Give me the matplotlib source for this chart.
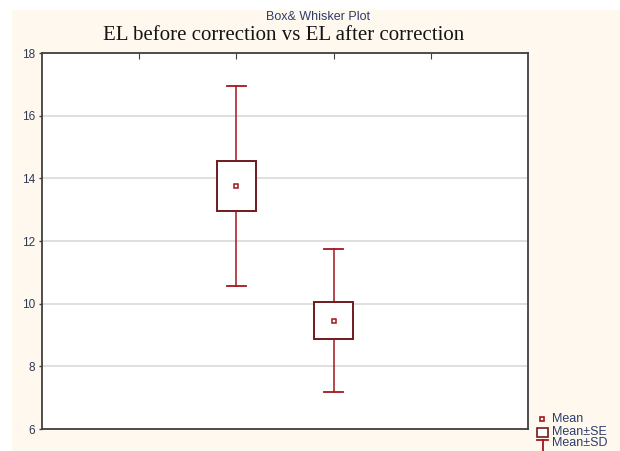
import matplotlib
matplotlib.use("Agg")
import matplotlib.pyplot as plt
import numpy as np
from matplotlib.patches import Rectangle
from matplotlib.lines import Line2D

categories = ["EL before correction", "EL after correction"]
means = [13.76, 9.46]
se = [0.79, 0.58]
sd = [3.20, 2.27]
yticks = [6, 8, 10, 12, 14, 16, 18]

W, H = 620, 451
fig = plt.figure(figsize=(W / 100, H / 100), dpi=100)
fig.patch.set_facecolor("white")
bg = Rectangle((12 / W, 0), (W - 12) / W, (H - 10) / H,
               transform=fig.transFigure, facecolor="#FFF8EF",
               edgecolor="none", zorder=-10)
fig.patches.append(bg)

ax = fig.add_axes([42 / W, 22 / H, 486 / W, 376 / H])
ax.set_zorder(5)
ax.set_facecolor("white")
ax.set_xlim(0, 5)
ax.set_ylim(6, 18)

red = "#A3161C"
dark = "#6E1B1E"
pos = np.arange(len(categories)) + 2
for x, m, s, d in zip(pos, means, se, sd):
    ax.plot([x, x], [m + s, m + d], color=red, lw=1.1, zorder=3)
    ax.plot([x, x], [m - d, m - s], color=red, lw=1.1, zorder=3)
    ax.plot([x - 0.1, x + 0.1], [m + d, m + d], color=red, lw=1.3, zorder=3)
    ax.plot([x - 0.1, x + 0.1], [m - d, m - d], color=red, lw=1.3, zorder=3)
    ax.add_patch(Rectangle((x - 0.2, m - s), 0.4, 2 * s, facecolor="white",
                           edgecolor=dark, lw=1.4, zorder=4))
    ax.plot([x], [m], marker="s", ms=2.8, mfc="white", mec=red, mew=1.1,
            zorder=5, ls="none")

ax.set_yticks(yticks)
ax.set_yticklabels([str(t) for t in yticks], fontsize=8.5, color="#2E3A55",
                   family="Liberation Sans")
ax.grid(axis="y", color="#D9D9D9", lw=1.2, zorder=1)
ax.set_axisbelow(True)
ax.set_xticks([1, 2, 3, 4])
ax.tick_params(axis="x", bottom=False, top=True, direction="in", length=4,
               labelbottom=False, color="#404040")
ax.tick_params(axis="y", length=2, width=1, color="#404040", pad=3)
for sp in ax.spines.values():
    sp.set_color("#404040")
    sp.set_linewidth(1.3)

fig.text(318 / W, 1 - 17 / H, "Box& Whisker Plot", ha="center", va="center",
         fontsize=9, color="#2A3E6A", family="Liberation Sans", zorder=6)
fig.text(284 / W, 1 - 35 / H, "EL before correction vs EL after correction",
         ha="center", va="center", fontsize=15, color="#151515",
         family="Liberation Serif", zorder=6)

# legend
tx = 552 / W
rows = [419, 432, 443]
fig.add_artist(Line2D([542 / W], [1 - rows[0] / H], marker="s", ms=3.5,
                      mfc="white", mec=red, mew=1.2, ls="none",
                      transform=fig.transFigure, zorder=6))
fig.add_artist(Rectangle((537 / W, 1 - 437 / H), 11 / W, 9 / H,
                         transform=fig.transFigure, facecolor="white",
                         edgecolor=dark, lw=1.2, zorder=6))
fig.add_artist(Line2D([537 / W, 548 / W], [1 - 440 / H] * 2, color=red, lw=1.3,
                      transform=fig.transFigure, zorder=6))
fig.add_artist(Line2D([542.5 / W, 542.5 / W], [1 - 440 / H, 0], color=red,
                      lw=1.3, transform=fig.transFigure, zorder=6))
for r, t in zip(rows, ["Mean", "Mean±SE", "Mean±SD"]):
    fig.text(tx, 1 - r / H, t, ha="left", va="center", fontsize=9,
             color="#2A3E6A", family="Liberation Sans", zorder=6)

fig.savefig("out.png", dpi=100)
